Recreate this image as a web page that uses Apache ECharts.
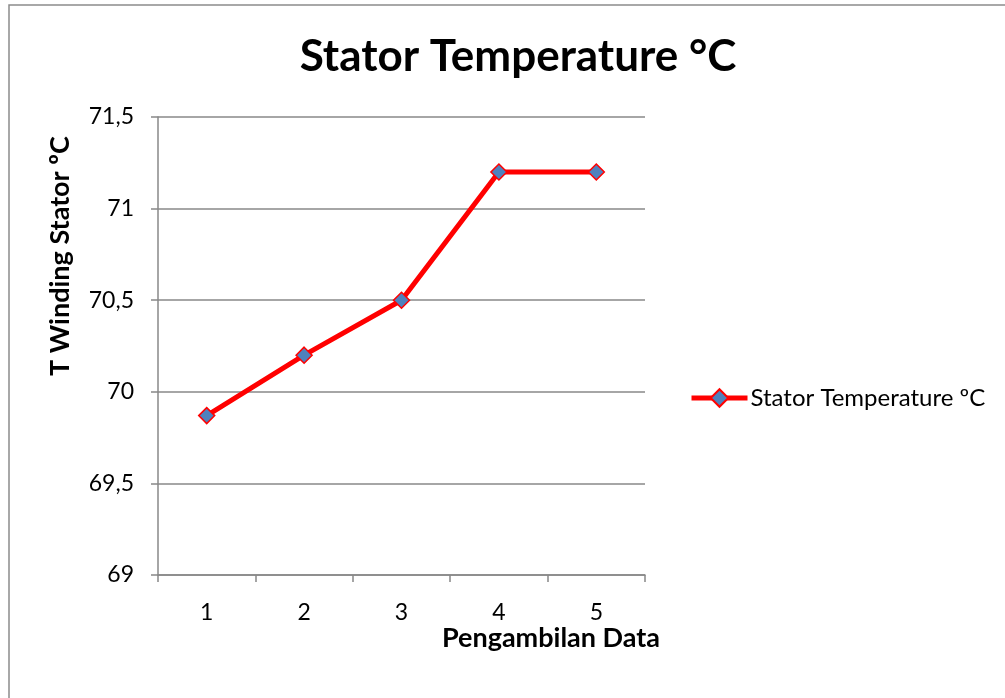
<!DOCTYPE html>
<html>
<head>
<meta charset="utf-8">
<script src="https://cdn.jsdelivr.net/npm/echarts@6/dist/echarts.min.js"></script>
<style>
html,body{margin:0;padding:0;background:#fff;}
#chart{width:1005px;height:698px;}
</style>
</head>
<body>
<div id="chart"></div>
<script>
const categories = ['1', '2', '3', '4', '5'];
const statorTemp = [69.87, 70.2, 70.5, 71.2, 71.2];
const seriesName = 'Stator Temperature ºC';
const titleText = 'Stator Temperature °C';
const yAxisTitle = 'T Winding Stator ºC';
const xAxisTitle = 'Pengambilan Data';

const FONT = 'Lato, "Open Sans", sans-serif';
const chart = echarts.init(document.getElementById('chart'), null, {renderer: 'canvas'});
chart.setOption({
  backgroundColor: '#fff',
  animation: false,
  title: {
    text: titleText,
    left: 513, top: 30, textAlign: 'center',
    textStyle: {fontFamily: FONT, fontWeight: 'bold', fontSize: 44, color: '#000'}
  },
  legend: {
    data: [seriesName],
    left: 684, top: 381,
    itemWidth: 56, itemHeight: 22, itemGap: 4,
    lineStyle: {width: 5, color: '#ff0000'},
    textStyle: {fontFamily: FONT, fontSize: 24, color: '#000', padding: [0,0,0,-2]}
  },
  grid: {left: 158, right: 360, top: 117, bottom: 123, containLabel: false},
  xAxis: {
    type: 'category',
    data: categories,
    boundaryGap: true,
    axisLine: {lineStyle: {color: '#888', width: 1.5}},
    axisTick: {show: true, length: 7, alignWithLabel: false, lineStyle: {color: '#888', width: 1.5}},
    axisLabel: {fontFamily: FONT, fontSize: 23, color: '#000', margin: 26}
  },
  yAxis: {
    type: 'value',
    min: 69, max: 71.5, interval: 0.5,
    axisLine: {show: true, lineStyle: {color: '#888', width: 1.5}},
    axisTick: {show: true, length: 7, lineStyle: {color: '#888', width: 1.5}},
    splitLine: {show: true, lineStyle: {color: '#888', width: 1.5}},
    axisLabel: {
      fontFamily: FONT, fontSize: 23, color: '#000', margin: 24,
      formatter: v => String(v).replace('.', ',')
    }
  },
  series: [{
    name: seriesName,
    type: 'line',
    data: statorTemp,
    lineStyle: {color: '#ff0000', width: 5},
    symbol: 'diamond',
    symbolSize: 16,
    itemStyle: {color: '#4f81bd', borderColor: '#ff0000', borderWidth: 1.5}
  }],
  graphic: [
    {type: 'rect', shape: {x: 9, y: 5, width: 1100, height: 800},
     style: {fill: 'none', stroke: '#8c8c8c', lineWidth: 1.5}, silent: true},
    {type: 'text', x: 60, y: 256, rotation: Math.PI / 2,
     style: {text: yAxisTitle, fontFamily: FONT, fontWeight: 'bold', fontSize: 27, fill: '#000',
             align: 'center', verticalAlign: 'middle'}},
    {type: 'text', x: 551, y: 638,
     style: {text: xAxisTitle, fontFamily: FONT, fontWeight: 'bold', fontSize: 27, fill: '#000',
             align: 'center', verticalAlign: 'middle'}}
  ]
});
</script>
</body>
</html>
